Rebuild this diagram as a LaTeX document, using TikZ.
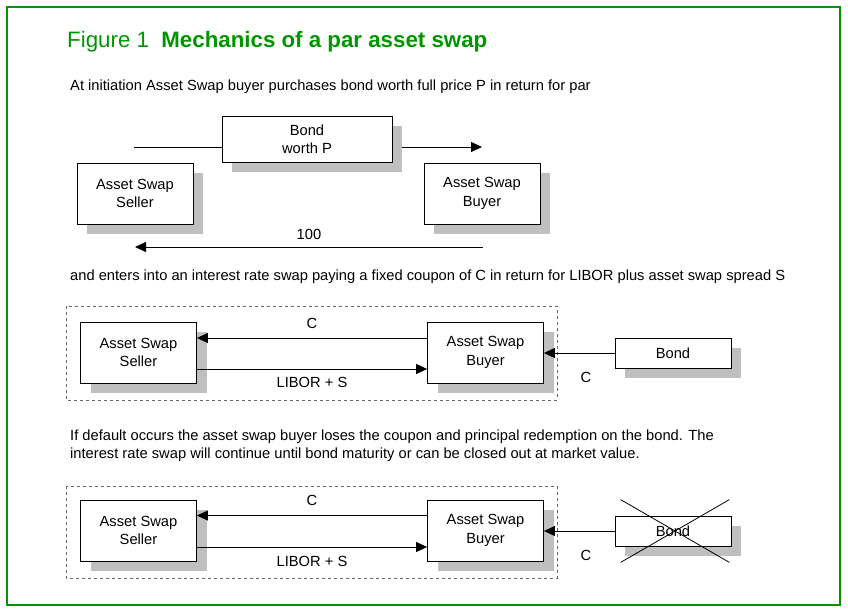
\documentclass[tikz,border=0pt]{standalone}
\usepackage{fontspec}
\setmainfont{Liberation Sans}
\usetikzlibrary{positioning,arrows.meta,shadows}
\definecolor{figgreen}{RGB}{0,150,0}
\tikzset{%
  party/.style={draw,fill=white,line width=.8pt,align=center,
    minimum width=116pt,minimum height=61pt,font=\fontsize{14.7}{18.5}\selectfont,
    general shadow={fill=black!25,shadow xshift=10pt,shadow yshift=-10pt}},
  bondbox/.style={party,minimum width=116pt,minimum height=30pt},
  flow/.style={line width=.8pt,-{Triangle[length=11pt,width=10pt]}},
  lbl/.style={font=\fontsize{14.7}{18}\selectfont},
  txt/.style={anchor=west,inner sep=0pt,font=\fontsize{14.7}{18}\selectfont},
  swapbox/.style={draw=black!60,dashed,line width=.8pt}
}
\begin{document}
\begin{tikzpicture}[x=1pt,y=-1pt]
  \useasboundingbox (0,0) rectangle (848,612);
  \draw[figgreen,line width=1.2pt] (7,7) rectangle (840,605);

  \node[anchor=west,inner sep=0pt,text=figgreen,font=\fontsize{22.3}{26}\selectfont] (title) at (67,42)
    {Figure 1\ \ \textbf{Mechanics of a par asset swap}};

  % at initiation
  \node[txt] (t1) at (70,87) {At initiation Asset Swap buyer purchases bond worth full price P in return for par};
  \coordinate (p1) at (134,147);
  \coordinate (p2) at (482,147);
  \draw[flow] (p1) -- (p2);
  \node[party,minimum width=170pt,minimum height=46pt] (bond1) at (307,139) {Bond\\worth P};
  \node[party] (seller1) at (135,193.5) {Asset Swap\\Seller};
  \node[party] (buyer1) at (482,193.5) {Asset Swap\\Buyer};
  \coordinate (q1) at (483,247);
  \coordinate (q2) at (135,247);
  \draw[flow] (q1) -- node[lbl,above=4pt] (par) {100} (q2);

  % the swap
  \node[txt] (t2) at (70,277) {and enters into an interest rate swap paying a fixed coupon of C in return for LIBOR plus asset swap spread S};
  \draw[swapbox] (66,306) rectangle (557,400);
  \node[party] (seller2) at (138.5,352.5) {Asset Swap\\Seller};
  \node[party] (buyer2) at (485.5,352.5) {Asset Swap\\Buyer};
  \node[bondbox] (bond2) at (673,353) {Bond};
  \draw[flow] ([yshift=14.5pt]buyer2.west) -- node[lbl,above=6pt] (c2) {C} ([yshift=14.5pt]seller2.east);
  \draw[flow] ([yshift=-16.5pt]seller2.east) -- node[lbl,below=5pt] (libor2) {LIBOR + S} ([yshift=-16.5pt]buyer2.west);
  \draw[flow] (bond2.west) -- (bond2.west -| buyer2.east);
  \node[lbl] (cb2) at (586,377) {C};

  % default
  \node[txt] (t3) at (70,437) {If default occurs the asset swap buyer loses the coupon and principal redemption on the bond. The};
  \node[txt] (t4) at (70,455) {interest rate swap will continue until bond maturity or can be closed out at market value.};
  \draw[swapbox] (66,486) rectangle (557,578);
  \node[party] (seller3) at (138.5,530.5) {Asset Swap\\Seller};
  \node[party] (buyer3) at (485.5,530.5) {Asset Swap\\Buyer};
  \node[bondbox] (bond3) at (673,531) {Bond};
  \draw[flow] ([yshift=15pt]buyer3.west) -- node[lbl,above=6pt] (c3) {C} ([yshift=15pt]seller3.east);
  \draw[flow] ([yshift=-16.5pt]seller3.east) -- node[lbl,below=5pt] (libor3) {LIBOR + S} ([yshift=-16.5pt]buyer3.west);
  \draw[flow] (bond3.west) -- (bond3.west -| buyer3.east);
  \node[lbl] (cb3) at (586,555) {C};
  \draw[line width=.8pt] ([xshift=6pt,yshift=16pt]bond3.north west) -- ([xshift=-2pt,yshift=-16pt]bond3.south east);
  \draw[line width=.8pt] ([xshift=-2pt,yshift=16pt]bond3.north east) -- ([xshift=6pt,yshift=-16pt]bond3.south west);
\end{tikzpicture}
\end{document}
